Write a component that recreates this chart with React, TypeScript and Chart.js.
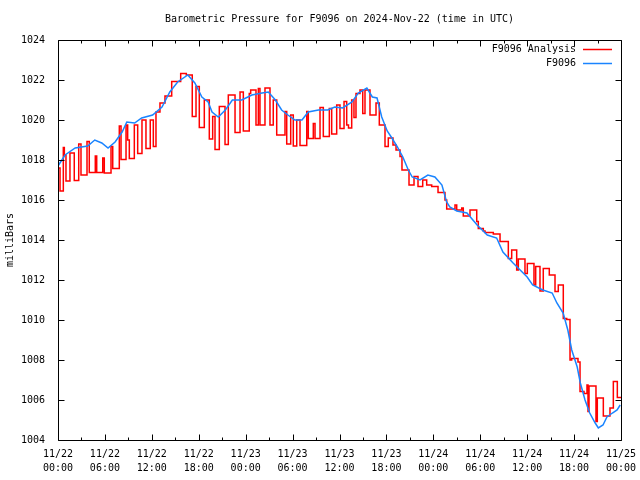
import React, { useEffect, useRef } from "react";
import { Chart, registerables } from "chart.js";

Chart.register(...registerables);

// Hours since 2024-11-22 00:00 UTC
const stationHours = [
  0.0, 0.9, 2.2, 3.8, 4.7, 5.6, 6.4, 7.3, 8.2, 8.8, 9.8, 10.7, 12.1, 13.3, 14.3, 15.3,
  16.6, 17.5, 18.4, 19.2, 19.7, 20.5, 21.4, 22.3, 23.5, 24.8, 26.1, 26.9, 27.8, 28.6,
  29.4, 30.3, 31.2, 32.0, 33.3, 34.5, 35.4, 36.4, 37.6, 38.4, 39.5, 40.2, 40.8, 41.4,
  42.1, 42.7, 43.4, 44.1, 44.8, 45.3, 46.3, 47.3, 48.2, 49.1, 49.7, 50.1, 51.0, 52.3,
  53.6, 54.9, 56.1, 56.9, 58.2, 59.1, 60.0, 60.7, 62.0, 63.2, 63.8, 64.6, 65.2, 65.7,
  66.4, 66.8, 67.4, 68.0, 68.7, 69.1, 69.7, 70.2, 70.9, 71.5, 71.9,
];
const stationValues = [
  1017.7, 1018.25, 1018.6, 1018.7, 1019.0, 1018.85, 1018.6, 1018.9, 1019.4, 1019.9,
  1019.85, 1020.1, 1020.25, 1020.65, 1021.4, 1021.9, 1022.25, 1021.85, 1021.15, 1020.9,
  1020.4, 1020.15, 1020.5, 1021.0, 1021.0, 1021.25, 1021.35, 1021.4, 1021.0, 1020.5,
  1020.25, 1020.0, 1020.0, 1020.4, 1020.5, 1020.5, 1020.65, 1020.6, 1020.9, 1021.35,
  1021.6, 1021.15, 1021.1, 1020.15, 1019.45, 1019.1, 1018.65, 1018.15, 1017.5, 1017.15,
  1017.0, 1017.25, 1017.15, 1016.75, 1015.9, 1015.65, 1015.45, 1015.35, 1014.75,
  1014.25, 1014.1, 1013.4, 1012.85, 1012.5, 1012.15, 1011.75, 1011.5, 1011.35, 1010.85,
  1010.35, 1009.5, 1008.5, 1007.65, 1006.85, 1006.0, 1005.35, 1004.85, 1004.6, 1004.75,
  1005.15, 1005.35, 1005.5, 1005.75,
];

// Analysis: each value holds from its hour until the next hour listed
const analysisHours = [
  0, 0.26, 0.68, 0.81, 1.02, 1.53, 2.08, 2.65, 2.94, 3.71, 4.0, 4.77, 4.95, 5.72, 5.92,
  6.78, 7.0, 7.84, 8.06, 8.7, 8.91, 9.12, 9.76, 10.19, 10.74, 11.25, 11.8, 12.19, 12.53,
  13.04, 13.68, 14.54, 15.69, 16.41, 17.17, 17.65, 18.07, 18.71, 19.35, 19.78, 20.08,
  20.63, 21.36, 21.78, 22.64, 23.28, 23.7, 24.46, 24.64, 25.32, 25.62, 25.83, 26.47,
  27.11, 27.53, 27.97, 29.03, 29.25, 29.76, 30.09, 30.53, 30.95, 31.81, 32.01, 32.65,
  32.87, 33.51, 33.93, 34.7, 35.0, 35.64, 36.06, 36.58, 36.92, 37.15, 37.56, 37.85,
  38.11, 38.62, 38.97, 39.26, 39.9, 40.67, 41.09, 41.82, 42.24, 42.84, 43.23, 43.74,
  43.99, 44.89, 45.53, 46.04, 46.64, 47.15, 47.79, 48.6, 49.49, 49.71, 50.77, 50.99,
  51.63, 51.83, 52.69, 53.55, 53.75, 54.39, 54.61, 55.67, 56.53, 57.59, 58.02, 58.66,
  58.87, 59.72, 60.02, 60.87, 61.09, 61.64, 62.06, 62.83, 63.56, 63.98, 64.62, 65.06,
  65.48, 65.69, 66.5, 66.76, 67.27, 67.65, 67.78, 67.91, 68.8, 68.97, 69.74, 70.59,
  71.02, 71.53, 72,
];
const analysisValues = [
  1017.6, 1016.45, 1018.63, 1018.25, 1016.95, 1018.35, 1016.98, 1018.8, 1017.25, 1018.92,
  1017.38, 1018.2, 1017.38, 1018.1, 1017.35, 1018.67, 1017.58, 1019.7, 1018.03, 1019.75,
  1019.0, 1018.08, 1019.75, 1018.33, 1020.0, 1018.58, 1020.0, 1018.67, 1020.4, 1020.85,
  1021.2, 1021.92, 1022.33, 1022.25, 1020.17, 1021.67, 1019.62, 1021.0, 1019.05, 1020.17,
  1018.53, 1020.67, 1018.78, 1021.25, 1019.37, 1021.4, 1019.45, 1021.33, 1021.5, 1019.75,
  1021.58, 1019.75, 1021.6, 1019.75, 1021.0, 1019.25, 1020.42, 1018.8, 1020.25, 1018.7,
  1020.0, 1018.72, 1020.42, 1019.08, 1019.83, 1019.08, 1020.63, 1019.17, 1020.58, 1019.3,
  1020.75, 1019.58, 1020.92, 1019.75, 1019.6, 1021.0, 1020.12, 1021.33, 1021.5, 1020.33,
  1021.5, 1020.25, 1020.85, 1019.75, 1018.67, 1019.1, 1018.75, 1018.5, 1018.17, 1017.5,
  1016.75, 1017.17, 1016.67, 1017.0, 1016.75, 1016.67, 1016.37, 1016.0, 1015.55, 1015.75,
  1015.5, 1015.6, 1015.2, 1015.5, 1014.92, 1014.58, 1014.45, 1014.37, 1014.3, 1013.92,
  1013.08, 1013.5, 1012.5, 1013.05, 1012.33, 1012.83, 1011.75, 1012.67, 1011.45, 1012.58,
  1012.25, 1011.42, 1011.75, 1010.08, 1010.03, 1008.0, 1008.08, 1007.9, 1006.42, 1006.33,
  1006.75, 1005.42, 1006.7, 1004.92, 1006.1, 1005.2, 1005.6, 1006.92, 1006.12, 1006.1,
];

const xTickDates = ["11/22", "11/22", "11/22", "11/22", "11/23", "11/23", "11/23", "11/23", "11/24", "11/24", "11/24", "11/24", "11/25"];
const xTickTimes = ["00:00", "06:00", "12:00", "18:00", "00:00", "06:00", "12:00", "18:00", "00:00", "06:00", "12:00", "18:00", "00:00"];

const titleText = "Barometric Pressure for F9096 on 2024-Nov-22 (time in UTC)";
const seriesNames = ["F9096 Analysis", "F9096"];
const seriesColors = ["#ff0000", "#1a84ff"];

const FONT = "'DejaVu Sans Mono', 'Liberation Mono', monospace";

const framePlugin = {
  id: "gnuFrame",
  afterDraw(chart: any) {
    const { ctx, chartArea: a, scales } = chart;
    const xs = scales.x;
    const ys = scales.y;
    const L = Math.round(a.left) + 0.5;
    const R = Math.round(a.right) + 0.5;
    const T = Math.round(a.top) + 0.5;
    const B = Math.round(a.bottom) + 0.5;
    ctx.save();
    ctx.strokeStyle = "#000";
    ctx.lineWidth = 1;
    ctx.beginPath();
    ctx.rect(L, T, R - L, B - T);
    for (let h = 0; h <= 72; h += 3) {
      const px = Math.round(xs.getPixelForValue(h)) + 0.5;
      const len = h % 6 === 0 ? 6 : 3;
      ctx.moveTo(px, B);
      ctx.lineTo(px, B - len);
      ctx.moveTo(px, T);
      ctx.lineTo(px, T + len);
    }
    for (let v = 1004; v <= 1024; v += 2) {
      const py = Math.round(ys.getPixelForValue(v)) + 0.5;
      ctx.moveTo(L, py);
      ctx.lineTo(L + 6, py);
      ctx.moveTo(R, py);
      ctx.lineTo(R - 6, py);
    }
    ctx.stroke();

    ctx.fillStyle = "#000";
    ctx.font = `10px ${FONT}`;
    ctx.textAlign = "center";
    ctx.textBaseline = "middle";
    ctx.fillText(titleText, (a.left + a.right) / 2, 19);

    ctx.textAlign = "right";
    const rows = [49, 63];
    seriesNames.forEach((name, i) => {
      ctx.fillStyle = "#000";
      ctx.fillText(name, 576, rows[i]);
      ctx.strokeStyle = seriesColors[i];
      ctx.lineWidth = 1.5;
      ctx.beginPath();
      ctx.moveTo(583, rows[i] + 0.5);
      ctx.lineTo(612, rows[i] + 0.5);
      ctx.stroke();
    });
    ctx.restore();
  },
};

export default function App() {
  const canvasRef = useRef<HTMLCanvasElement | null>(null);

  useEffect(() => {
    const canvas = canvasRef.current;
    if (!canvas) return;
    const chart = new Chart(canvas, {
      type: "line",
      data: {
        datasets: [
          {
            label: seriesNames[1],
            data: stationHours.map((h, i) => ({ x: h, y: stationValues[i] })),
            borderColor: seriesColors[1],
            borderWidth: 1.5,
            pointRadius: 0,
            fill: false,
            tension: 0,
            order: 0,
          },
          {
            label: seriesNames[0],
            data: analysisHours.map((h, i) => ({ x: h, y: analysisValues[i] })),
            borderColor: seriesColors[0],
            borderWidth: 1.5,
            pointRadius: 0,
            fill: false,
            stepped: true,
            order: 1,
          },
        ],
      },
      options: {
        responsive: false,
        animation: false,
        devicePixelRatio: 1,
        layout: { padding: { top: 40, right: 19, left: 0, bottom: 0 } },
        plugins: {
          legend: { display: false },
          title: { display: false },
          tooltip: { enabled: false },
        },
        scales: {
          x: {
            type: "linear",
            min: 0,
            max: 72,
            grid: { display: false },
            border: { display: false },
            afterFit: (scale: any) => {
              scale.height = 40;
            },
            afterBuildTicks: (scale: any) => {
              scale.ticks = xTickDates.map((_, i) => ({ value: i * 6 }));
            },
            ticks: {
              color: "#000",
              font: { family: FONT, size: 10, lineHeight: 1.4 },
              padding: -1,
              maxRotation: 0,
              autoSkip: false,
              callback: (_v: any, i: number) => [xTickDates[i], xTickTimes[i]],
            },
          },
          y: {
            type: "linear",
            min: 1004,
            max: 1024,
            grid: { display: false },
            border: { display: false },
            afterFit: (scale: any) => {
              scale.width = 58;
            },
            ticks: {
              stepSize: 2,
              color: "#000",
              font: { family: FONT, size: 10 },
              padding: 5,
              callback: (v: any) => String(v),
            },
            title: {
              display: true,
              text: "milliBars",
              color: "#000",
              font: { family: FONT, size: 10 },
              padding: { top: 4, bottom: 4 },
            },
          },
        },
      },
      plugins: [framePlugin],
    });
    return () => chart.destroy();
  }, []);

  return (
    <div style={{ position: "fixed", left: 0, top: 0, width: 640, height: 480, background: "#fff" }}>
      <canvas ref={canvasRef} width={640} height={480} style={{ width: 640, height: 480, display: "block" }} />
    </div>
  );
}
